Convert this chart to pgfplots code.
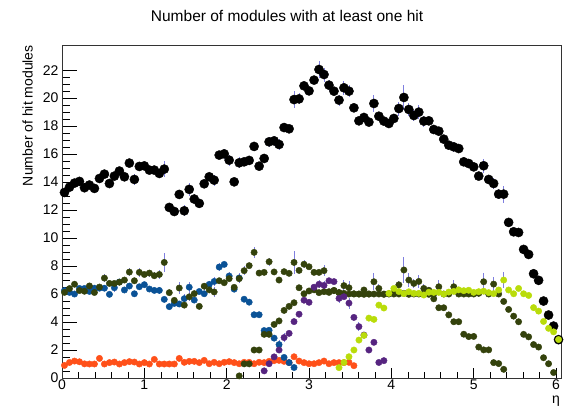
\documentclass[border=0pt]{standalone}
\usepackage{fontspec}
\setmainfont{Liberation Sans}
\usepackage{pgfplots}
\pgfplotsset{compat=1.18}

\definecolor{cOrange}{RGB}{255,80,25}
\definecolor{cBlue}{RGB}{10,82,150}
\definecolor{cOlive}{RGB}{52,66,12}
\definecolor{cPurple}{RGB}{86,36,128}
\definecolor{cLime}{RGB}{185,220,10}
\definecolor{cErr}{RGB}{95,95,215}

\pgfplotsset{
  hits/.style={only marks, mark=*, mark size=#1,
    error bars/y dir=both, error bars/y explicit, error bars/error mark=none,
    error bars/error bar style={cErr, line width=0.9bp, opacity=0.8}},
}

\begin{document}
\begin{tikzpicture}
\useasboundingbox (0,0) rectangle (568bp,406bp);
\begin{axis}[
  at={(62bp,28bp)}, anchor=south west,
  scale only axis, width=499bp, height=333bp,
  xmin=0, xmax=6.06, ymin=0, ymax=23.8,
  xtick={0,1,...,6}, ytick={0,2,...,22},
  minor x tick num=4, minor y tick num=3,
  tick align=inside, tick pos=left,
  major tick length=15bp, minor tick length=8bp,
  xtick style={/pgfplots/major tick length=10bp, /pgfplots/minor tick length=5.5bp},
  tick style={black, line width=0.6bp},
  axis line style={black!80, line width=0.8bp},
  /pgf/number format/assume math mode=true,
  ticklabel style={font=\fontsize{14bp}{16bp}\selectfont},
  xticklabel style={yshift=2bp},
  title={Number of modules with at least one hit},
  title style={at={(axis description cs:0.451,1.07)}, anchor=center,
    font=\fontsize{15.5bp}{18bp}\selectfont},
  ylabel={Number of hit modules},
  ylabel style={at={(axis description cs:-0.058,1)}, anchor=south east,
    inner sep=0pt, font=\fontsize{14bp}{16bp}\selectfont},
  xlabel={η},
  xlabel style={at={(axis description cs:1,0)}, anchor=north east,
    inner sep=0pt, xshift=-1bp, yshift=-18bp, font=\fontsize{14bp}{16bp}\selectfont},
]

% all modules
\addplot[black, hits=4.6bp] table[y error index=2] {
x y e
0.030 13.26 0.15
0.091 13.64 0.15
0.152 13.93 0.15
0.212 14.05 0.15
0.273 13.60 0.15
0.333 13.79 0.15
0.394 13.55 0.15
0.455 14.26 0.2
0.515 14.57 0.2
0.576 13.90 0.2
0.636 14.43 0.2
0.697 14.79 0.25
0.758 14.38 0.2
0.818 15.36 0.2
0.879 14.19 0.4
0.939 15.12 0.35
1.000 15.16 0.3
1.061 14.86 0.25
1.121 14.86 0.3
1.182 14.62 0.35
1.242 14.93 0.6
1.303 12.19 0.2
1.364 11.90 0.2
1.424 13.12 0.3
1.485 11.95 0.4
1.545 13.48 0.45
1.606 12.79 0.25
1.667 12.48 0.2
1.727 13.88 0.2
1.788 14.38 0.3
1.848 14.14 0.4
1.909 15.93 0.3
1.970 16.02 0.35
2.030 15.57 0.4
2.091 14.02 0.2
2.152 15.38 0.4
2.212 15.45 0.3
2.273 15.55 0.35
2.333 16.55 0.35
2.394 15.14 0.3
2.455 15.69 0.35
2.515 16.88 0.35
2.576 16.95 0.35
2.636 16.69 0.4
2.697 17.90 0.25
2.758 17.81 0.25
2.818 19.90 0.6
2.879 19.95 0.4
2.939 20.88 0.3
3.000 20.52 0.3
3.061 21.29 0.3
3.121 22.05 0.6
3.182 21.69 0.5
3.242 20.93 0.4
3.303 20.50 0.3
3.364 19.86 0.4
3.424 20.74 0.5
3.485 20.50 0.45
3.545 19.31 0.3
3.606 18.38 0.3
3.667 18.62 0.2
3.727 18.29 0.2
3.788 19.62 0.6
3.848 18.71 0.3
3.909 18.36 0.3
3.970 18.19 0.2
4.030 18.55 0.3
4.091 19.26 0.5
4.152 20.05 0.9
4.212 19.19 0.5
4.273 18.76 0.4
4.333 19.00 0.5
4.394 18.36 0.4
4.455 18.38 0.3
4.515 17.76 0.2
4.576 17.64 0.2
4.636 17.07 0.2
4.697 16.64 0.25
4.758 16.52 0.35
4.818 16.40 0.2
4.879 15.45 0.2
4.939 15.33 0.2
5.000 15.09 0.2
5.061 14.43 0.2
5.121 15.17 0.5
5.182 14.19 0.2
5.242 13.90 0.4
5.303 13.14 0.35
5.364 13.14 0.6
5.424 11.12 0.15
5.485 10.45 0.15
5.545 10.40 0.15
5.606 9.19 0.15
5.667 8.83 0.15
5.727 7.45 0.15
5.788 6.98 0.15
5.848 5.50 0.15
5.909 4.50 0.15
5.970 3.71 0.15
6.030 2.74 0.15
};

% layer 1
\addplot[cOrange, hits=3.2bp] table[y error index=2] {
x y e
0.030 0.90 0.05
0.091 1.11 0.05
0.152 1.21 0.05
0.212 1.16 0.05
0.273 1.01 0.05
0.333 1.00 0.05
0.394 1.00 0.05
0.455 1.40 0.05
0.515 1.00 0.05
0.576 1.10 0.05
0.636 1.14 0.05
0.697 1.00 0.05
0.758 1.10 0.05
0.818 1.17 0.05
0.879 1.14 0.05
0.939 1.00 0.05
1.000 1.10 0.05
1.061 1.00 0.05
1.121 1.33 0.05
1.182 1.00 0.05
1.242 1.00 0.05
1.303 1.00 0.05
1.364 1.00 0.05
1.424 1.40 0.05
1.485 1.12 0.05
1.545 1.19 0.05
1.606 1.19 0.05
1.667 1.10 0.05
1.727 1.26 0.05
1.788 1.02 0.05
1.848 1.12 0.05
1.909 1.02 0.05
1.970 1.12 0.05
2.030 1.17 0.05
2.091 1.10 0.05
2.152 1.02 0.05
2.212 1.12 0.05
2.273 1.12 0.05
2.333 1.02 0.05
2.394 1.12 0.05
2.455 1.10 0.05
2.515 1.19 0.05
2.576 1.24 0.05
2.636 1.26 0.05
2.697 1.19 0.05
2.758 1.10 0.05
2.818 1.52 0.05
2.879 1.21 0.05
2.939 1.10 0.05
3.000 1.02 0.05
3.061 1.02 0.05
3.121 1.10 0.05
3.182 1.21 0.05
3.242 1.02 0.05
3.303 1.10 0.05
3.364 1.10 0.05
3.424 1.10 0.05
3.485 1.12 0.05
3.545 0.88 0.05
};

% layer 2
\addplot[cBlue, hits=3.2bp] table[y error index=2] {
x y e
0.030 6.25 0.15
0.091 6.12 0.15
0.152 6.00 0.15
0.212 6.40 0.15
0.273 6.40 0.15
0.333 6.19 0.15
0.394 6.42 0.15
0.455 6.42 0.15
0.515 6.42 0.15
0.576 5.98 0.15
0.636 6.45 0.3
0.697 6.86 0.15
0.758 6.29 0.15
0.818 6.57 0.2
0.879 6.02 0.15
0.939 6.52 0.15
1.000 6.67 0.15
1.061 6.36 0.15
1.121 6.26 0.15
1.182 6.26 0.25
1.242 5.62 0.15
1.303 5.10 0.15
1.364 5.33 0.15
1.424 5.29 0.15
1.485 5.67 0.35
1.545 6.49 0.4
1.606 5.57 0.15
1.667 6.18 0.15
1.727 6.02 0.15
1.788 6.69 0.25
1.848 6.90 0.3
1.909 7.93 0.3
1.970 8.12 0.15
2.030 7.29 0.3
2.091 6.35 0.15
2.152 7.15 0.35
2.212 5.63 0.15
2.273 5.42 0.15
2.333 4.52 0.15
2.394 4.52 0.15
2.455 3.39 0.15
2.515 3.41 0.15
2.576 2.85 0.15
2.636 2.39 0.3
2.697 1.47 0.15
2.758 1.10 0.15
2.818 0.75 0.15
};

% layer 3
\addplot[cOlive, hits=3.2bp] table[y error index=2] {
x y e
0.030 6.12 0.15
0.091 6.39 0.15
0.152 6.70 0.15
0.212 6.25 0.15
0.273 6.20 0.15
0.333 6.58 0.15
0.394 6.11 0.15
0.455 6.50 0.15
0.515 7.14 0.3
0.576 6.76 0.15
0.636 6.76 0.15
0.697 6.85 0.15
0.758 7.00 0.15
0.818 7.57 0.3
0.879 6.95 0.15
0.939 7.55 0.3
1.000 7.40 0.15
1.061 7.50 0.25
1.121 7.31 0.25
1.182 7.40 0.3
1.242 8.26 0.7
1.303 6.10 0.15
1.364 5.55 0.15
1.424 6.43 0.4
1.485 5.21 0.15
1.545 5.80 0.3
1.606 6.03 0.15
1.667 5.12 0.15
1.727 6.56 0.25
1.788 6.30 0.15
1.848 6.15 0.35
1.909 6.95 0.15
1.970 6.81 0.15
2.030 7.10 0.15
2.091 6.48 0.15
2.152 7.10 0.3
2.212 7.67 0.3
2.273 8.03 0.15
2.333 8.98 0.4
2.394 7.50 0.15
2.455 7.55 0.15
2.515 8.31 0.3
2.576 7.58 0.15
2.636 7.00 0.15
2.697 7.60 0.15
2.758 7.48 0.15
2.818 8.26 0.8
2.879 7.69 0.15
2.939 8.13 0.3
3.000 7.95 0.15
3.061 7.55 0.15
3.121 7.55 0.15
3.182 7.67 0.4
3.242 6.17 0.15
3.303 6.26 0.15
3.364 6.10 0.15
3.424 6.60 0.4
3.485 6.45 0.45
3.545 6.02 0.15
3.606 6.00 0.15
3.667 6.29 0.15
3.727 6.00 0.15
3.788 6.88 0.6
3.848 6.40 0.3
3.909 6.00 0.15
3.970 6.02 0.15
4.030 6.10 0.15
4.091 6.66 0.3
4.152 7.72 0.9
4.212 7.00 0.5
4.273 6.76 0.35
4.333 6.90 0.45
4.394 6.40 0.3
4.455 6.27 0.2
4.515 5.66 0.15
4.576 5.02 0.15
4.636 5.02 0.15
4.697 4.51 0.15
4.758 4.02 0.15
4.818 4.02 0.15
4.879 3.13 0.15
4.939 2.96 0.15
5.000 2.97 0.15
5.061 2.21 0.15
5.121 2.01 0.15
5.182 2.01 0.15
5.242 1.10 0.15
5.303 1.03 0.15
5.364 0.62 0.15
};

% layer 4
\addplot[cOlive, hits=3.2bp] table[y error index=2] {
x y e
2.152 0.15 0.1
2.212 1.01 0.1
2.273 1.01 0.1
2.333 2.00 0.1
2.394 2.00 0.1
2.455 3.12 0.1
2.515 3.12 0.1
2.576 3.83 0.1
2.636 4.08 0.1
2.697 4.83 0.1
2.758 5.12 0.1
2.818 5.38 0.1
2.879 6.45 0.2
2.939 6.02 0.1
3.000 6.22 0.1
3.061 6.30 0.1
3.121 6.10 0.1
3.182 6.17 0.1
3.242 6.12 0.1
3.303 6.24 0.1
3.364 6.10 0.1
3.424 6.05 0.1
3.485 6.00 0.1
3.545 6.00 0.1
3.606 6.00 0.1
3.667 5.98 0.1
3.727 6.00 0.1
3.788 6.00 0.1
3.848 6.00 0.1
3.909 5.98 0.1
3.970 6.00 0.1
4.030 6.00 0.1
4.091 6.00 0.1
4.152 6.05 0.1
4.212 5.98 0.1
4.273 6.00 0.1
4.333 6.00 0.1
4.394 6.00 0.1
4.455 5.98 0.1
4.515 6.00 0.1
4.576 6.52 0.5
4.636 6.00 0.1
4.697 6.00 0.1
4.758 6.52 0.45
4.818 6.00 0.1
4.879 6.00 0.1
4.939 6.00 0.1
5.000 6.00 0.1
5.061 6.05 0.1
5.121 6.88 0.6
5.182 6.00 0.1
5.242 6.71 0.5
5.303 6.00 0.1
5.364 5.47 0.1
5.424 4.90 0.1
5.485 4.42 0.1
5.545 4.02 0.1
5.606 3.12 0.1
5.667 2.94 0.1
5.727 2.39 0.1
5.788 2.21 0.1
5.848 1.45 0.1
5.909 1.02 0.1
5.970 0.39 0.1
};

% layer 5
\addplot[cPurple, hits=3.2bp] table[y error index=2] {
x y e
2.455 0.51 0.1
2.515 1.02 0.1
2.576 1.51 0.1
2.636 2.00 0.1
2.697 2.89 0.35
2.758 3.19 0.1
2.818 4.03 0.1
2.879 4.56 0.1
2.939 5.56 0.1
3.000 5.41 0.2
3.061 6.49 0.1
3.121 6.70 0.3
3.182 6.62 0.3
3.242 6.95 0.1
3.303 6.89 0.1
3.364 5.69 0.3
3.424 5.81 0.1
3.485 5.35 0.4
3.545 4.33 0.1
3.606 3.67 0.3
3.667 3.07 0.1
3.727 2.00 0.1
3.788 2.55 0.1
3.848 1.11 0.1
3.909 1.24 0.1
};

% layer 6
\addplot[cLime, hits=3.2bp] table[y error index=2] {
x y e
3.364 0.74 0.1
3.424 1.11 0.1
3.485 1.52 0.1
3.545 2.00 0.1
3.606 2.71 0.1
3.667 3.04 0.1
3.727 4.28 0.1
3.788 4.19 0.1
3.848 5.21 0.1
3.909 5.00 0.1
3.970 6.05 0.1
4.030 6.40 0.1
4.091 6.18 0.1
4.152 6.03 0.1
4.212 6.16 0.1
4.273 6.05 0.1
4.333 6.05 0.1
4.394 5.93 0.1
4.455 6.13 0.1
4.515 6.12 0.1
4.576 6.12 0.1
4.636 6.00 0.1
4.697 6.14 0.1
4.758 6.19 0.1
4.818 6.30 0.1
4.879 6.24 0.1
4.939 6.27 0.1
5.000 6.12 0.1
5.061 6.17 0.1
5.121 6.20 0.1
5.182 6.10 0.1
5.242 6.03 0.1
5.303 6.29 0.1
5.364 7.00 0.6
5.424 6.29 0.1
5.485 6.02 0.1
5.545 6.40 0.1
5.606 6.02 0.1
5.667 5.90 0.1
5.727 5.03 0.1
5.788 4.78 0.1
5.848 4.04 0.1
5.909 3.55 0.1
5.970 3.30 0.1
6.030 2.75 0.1
};

\end{axis}
\end{tikzpicture}
\end{document}
